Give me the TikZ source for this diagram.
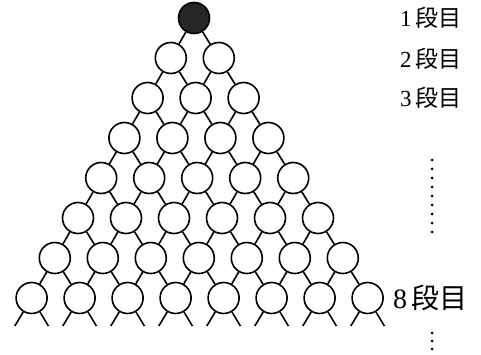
\documentclass[tikz,border=0pt]{standalone}
\usepackage{fontspec}
\setmainfont{Liberation Serif}
\newfontfamily\jpfont{Noto Sans CJK JP}
\tikzset{
  ball/.style={circle,draw=black,line width=1.6pt,minimum size=31pt,inner sep=0pt},
  topball/.style={ball,fill=black!85},
  link/.style={line width=1.6pt},
  lab/.style={anchor=west,inner sep=0pt,font=\fontsize{23}{23}\selectfont},
  labbig/.style={anchor=west,inner sep=0pt,font=\fontsize{28}{28}\selectfont},
  vdot/.style={circle,fill=black,inner sep=0pt,minimum size=3pt}
}
\begin{document}
\begin{tikzpicture}[x=1pt,y=-1pt]
\useasboundingbox (0,0) rectangle (481,355);
% balls
\node[topball] (n-1-1) at (194,18) {};
\foreach \r in {2,...,8}{
  \foreach \k in {1,...,\r}{
    \pgfmathsetmacro\xx{194+(\r-1)*0.8+(\k-1)*48-(\r-1)*24}
    \pgfmathsetmacro\yy{18+(\r-1)*40}
    \node[ball] (n-\r-\k) at (\xx,\yy) {};
  }
}
% links
\foreach \r in {1,...,7}{
  \pgfmathtruncatemacro\s{\r+1}
  \foreach \k in {1,...,\r}{
    \pgfmathtruncatemacro\kk{\k+1}
    \draw[link] (n-\r-\k) -- (n-\s-\k);
    \draw[link] (n-\r-\k) -- (n-\s-\kk);
  }
}
% legs of the last row
\foreach \k in {1,...,8}{
  \path (n-8-\k.center) ++(-16.8,28) coordinate (la-\k);
  \path (n-8-\k.center) ++(16.8,28) coordinate (lb-\k);
  \draw[link] (n-8-\k) -- (la-\k);
  \draw[link] (n-8-\k) -- (lb-\k);
}
% labels
\node[lab] (lab1) at (400,18) {1\,{\jpfont 段目}};
\node[lab] (lab2) at (400,59) {2\,{\jpfont 段目}};
\node[lab] (lab3) at (400,98) {3\,{\jpfont 段目}};
\node[labbig] (lab8) at (393,298) {8\,{\jpfont 段目}};
% vertical dots
\foreach \i in {0,...,8}{
  \node[vdot] (d-\i) at (432,160+\i*9) {};
}
\foreach \i in {0,...,2}{
  \node[vdot] (e-\i) at (432,333+\i*8) {};
}
\end{tikzpicture}
\end{document}
